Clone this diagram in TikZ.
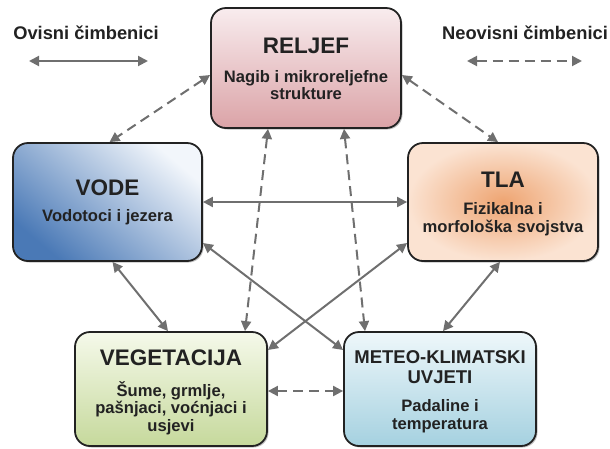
\documentclass[tikz,border=0pt]{standalone}
\usepackage{fontspec}
\setmainfont{Liberation Sans}
\usetikzlibrary{arrows.meta,shadows}
\definecolor{arr}{HTML}{6F6F6F}
\definecolor{edge}{HTML}{222222}
\definecolor{txt}{HTML}{222222}
\definecolor{relT}{HTML}{F8ECEE}
\definecolor{relM}{HTML}{EDC8CB}
\definecolor{relB}{HTML}{DBA3A7}
\definecolor{vodL}{HTML}{F2F6FB}
\definecolor{vodD}{HTML}{4A79B6}
\definecolor{tlaI}{HTML}{EEA471}
\definecolor{tlaO}{HTML}{FBE3D2}
\definecolor{vegT}{HTML}{F5F9EA}
\definecolor{vegB}{HTML}{C6D99C}
\definecolor{metT}{HTML}{EEF7FA}
\definecolor{metB}{HTML}{A5D1E0}
\tikzset{
  box/.style={draw=edge, line width=1.8pt, rounded corners=15pt, inner sep=0pt,
    minimum width=190pt, minimum height=118pt,
    drop shadow={shadow xshift=1.5pt, shadow yshift=-1.5pt, opacity=0.25, fill=black}},
  conn/.style={draw=arr, line width=2pt,
    {Triangle[length=10pt,width=10pt]}-{Triangle[length=10pt,width=10pt]}},
  dconn/.style={conn, dash pattern=on 10pt off 6pt},
  ttl/.style={font=\bfseries\fontsize{22.5}{24}\selectfont, text=txt, inner sep=0pt},
  sub/.style={font=\bfseries\fontsize{16.6}{17.5}\selectfont, text=txt, align=center, inner sep=0pt},
  leg/.style={font=\bfseries\fontsize{18.3}{20}\selectfont, text=txt, inner sep=0pt},
}
\begin{document}
\begin{tikzpicture}[x=1pt,y=-1pt]
\useasboundingbox (0,0) rectangle (610,448);
% boxes
\node[box, top color=relT, middle color=relM, bottom color=relB, minimum height=120pt] (reljef) at (306,68) {};
\node[box, top color=vodL, bottom color=vodD, shading angle=-40, minimum width=189pt] (vode) at (107.5,202) {};
\node[box, inner color=tlaI, outer color=tlaO] (tla) at (503,202) {};
\node[box, top color=vegT, bottom color=vegB, minimum width=192pt, minimum height=114pt] (veg) at (171,389) {};
\node[box, top color=metT, bottom color=metB, minimum width=192pt, minimum height=114pt] (meteo) at (440,389) {};
% texts
\node[ttl] (reljefT) at (306,46) {RELJEF};
\node[sub] (reljefS) at (306,85) {Nagib i mikroreljefne\\strukture};
\node[ttl] (vodeT) at (107.5,188) {VODE};
\node[sub] (vodeS) at (107.5,217) {Vodotoci i jezera};
\node[ttl] (tlaT) at (503,180) {TLA};
\node[sub] (tlaS) at (503,219) {Fizikalna i\\morfološka svojstva};
\node[ttl] (vegT) at (171,358) {VEGETACIJA};
\node[sub] (vegS) at (171,408) {Šume, grmlje,\\pašnjaci, voćnjaci i\\usjevi};
\node[ttl, font=\bfseries\fontsize{18.5}{20}\selectfont, align=center] (meteoT) at (440,367) {METEO-KLIMATSKI\\UVJETI};
\node[sub] (meteoS) at (440,416) {Padaline i\\temperatura};
% legend
\node[leg] (ovisni) at (86,33) {Ovisni čimbenici};
\node[leg] (neovisni) at (525,33) {Neovisni čimbenici};
\coordinate (o1) at (29,61);
\coordinate (o2) at (148,61);
\coordinate (n1) at (467,61);
\coordinate (n2) at (582,61);
\draw[conn] (o1) -- (o2);
\draw[dconn] (n1) -- (n2);
% connectors
\draw[dconn] ([yshift=-7pt]reljef.west) -- ([xshift=2pt]vode.north);
\draw[dconn] ([yshift=-7pt]reljef.east) -- ([xshift=-5pt]tla.north);
\draw[dconn] ([xshift=-38pt]reljef.south) -- ([xshift=74pt]veg.north);
\draw[dconn] ([xshift=38pt]reljef.south) -- ([xshift=-75pt]meteo.north);
\draw[conn] (vode.east) -- (tla.west);
\draw[conn] ([xshift=5pt]vode.south) -- ([xshift=-3pt]veg.north);
\draw[conn] ([xshift=-3pt]tla.south) -- ([xshift=3pt]meteo.north);
\draw[conn] ([yshift=-41pt]vode.east) -- ([yshift=39pt]meteo.west);
\draw[conn] ([yshift=-41pt]tla.west) -- ([yshift=39pt]veg.east);
\draw[dconn] ([yshift=-2pt]veg.east) -- ([yshift=-2pt]meteo.west);
\end{tikzpicture}
\end{document}
